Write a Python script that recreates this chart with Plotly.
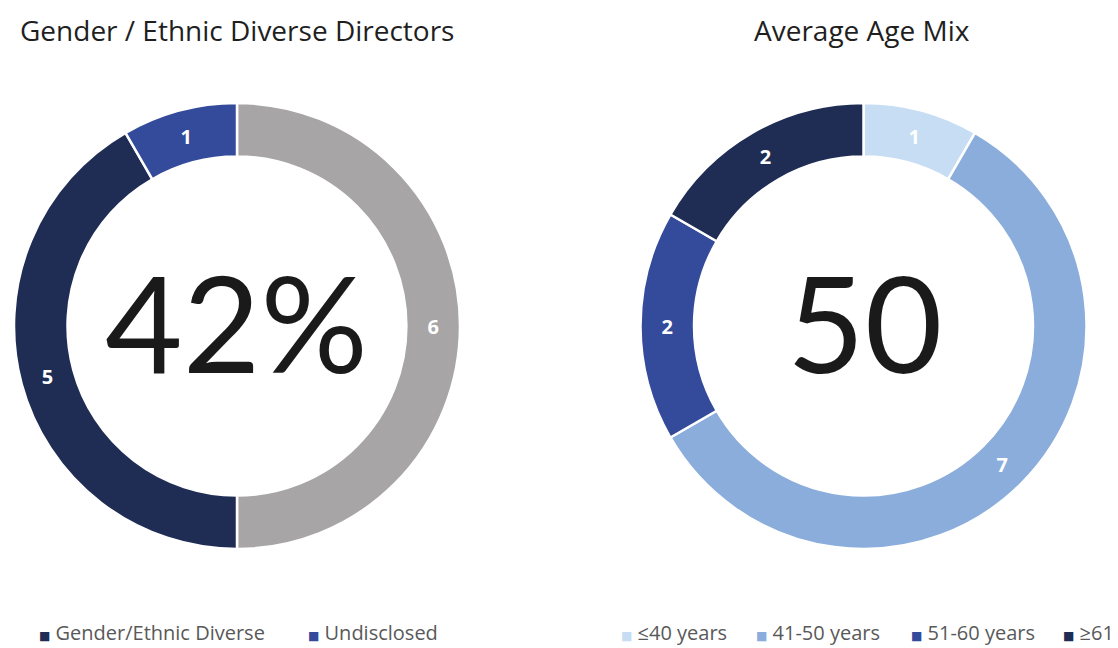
import plotly.graph_objects as go

# ---- data ----
title_left = "Gender / Ethnic Diverse Directors"
title_right = "Average Age Mix"

gender_labels = ["Non-diverse", "Gender/Ethnic Diverse", "Undisclosed"]
gender_values = [6, 5, 1]
gender_colors = ["#a7a5a6", "#1f2d55", "#344a9a"]
gender_legend = ["Gender/Ethnic Diverse", "Undisclosed"]
gender_center = "42%"

age_labels = ["≤40 years", "41-50 years", "51-60 years", "≥61 years"]
age_values = [1, 7, 2, 2]
age_colors = ["#c6ddf3", "#8aaddb", "#344a9a", "#1f2d55"]
age_legend = ["≤40 years", "41-50 years", "51-60 years", "≥61"]
age_center = "50"

# ---- layout helpers ----
W, H = 1118, 648
OFF = 8  # page body margin
FW, FH = W - OFF, H - OFF
FONT = "'Open Sans', 'Noto Sans', 'DejaVu Sans', sans-serif"
BIG = "Lato, 'Noto Sans', sans-serif"


def px(x):
    return (x - OFF) / FW


def py(y):
    return 1 - (y - OFF) / FH


def pie(labels, values, colors, x0, x1, y0, y1):
    return go.Pie(
        labels=labels,
        values=values,
        marker=dict(colors=colors, line=dict(color="white", width=2.5)),
        hole=0.76,
        sort=False,
        direction="clockwise",
        rotation=0,
        textinfo="value",
        textposition="inside",
        insidetextorientation="horizontal",
        textfont=dict(color="white", size=20, family=FONT, weight="bold"),
        showlegend=False,
        hoverinfo="label+value",
        domain=dict(x=[px(x0), px(x1)], y=[py(y1), py(y0)]),
    )


fig = go.Figure()
fig.add_trace(pie(gender_labels, gender_values, gender_colors, 14, 460, 103, 549))
fig.add_trace(pie(age_labels, age_values, age_colors, 640, 1087, 103, 549))

annotations = [
    dict(x=px(237), y=py(9), yanchor="top", text=title_left,
         font=dict(size=28, color="#1f1f1f", family=FONT)),
    dict(x=px(862), y=py(9), yanchor="top", text=title_right,
         font=dict(size=28, color="#1f1f1f", family=FONT)),
    dict(x=px(236), y=py(321), text=gender_center, font=dict(size=134, color="#1a1a1a", family=BIG)),
    dict(x=px(864), y=py(321), text=age_center, font=dict(size=134, color="#1a1a1a", family=BIG)),
]

legend_items = [
    (gender_legend[0], "#1f2d55", 37),
    (gender_legend[1], "#344a9a", 306),
    (age_legend[0], "#c6ddf3", 619),
    (age_legend[1], "#8aaddb", 754),
    (age_legend[2], "#344a9a", 909),
    (age_legend[3], "#1f2d55", 1061),
]
for name, color, x in legend_items:
    annotations.append(dict(
        x=px(x), y=py(632), xanchor="left",
        text=f"<span style='color:{color};font-size:12px'>■</span> {name}",
        font=dict(size=20, color="#595959", family=FONT),
    ))

for a in annotations:
    a.setdefault("xanchor", "center")
    a.setdefault("yanchor", "middle")
    a.update(xref="paper", yref="paper", showarrow=False)

fig.update_layout(
    width=FW, height=FH,
    margin=dict(l=0, r=0, t=0, b=0),
    paper_bgcolor="white",
    plot_bgcolor="white",
    annotations=annotations,
    font=dict(family=FONT),
)

fig.write_html("out.html")
